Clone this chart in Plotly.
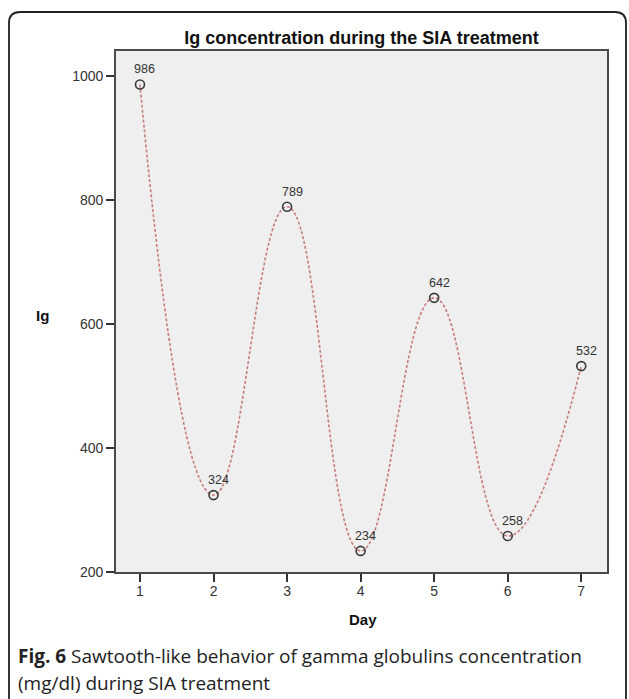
import plotly.graph_objects as go

days = [1, 2, 3, 4, 5, 6, 7]
ig_values = [986, 324, 789, 234, 642, 258, 532]
y_ticks = [200, 400, 600, 800, 1000]

title_text = "Ig concentration during the SIA treatment"
y_label = "Ig"
x_label = "Day"
caption_1 = "<b>Fig. 6</b> Sawtooth-like behavior of gamma globulins concentration"
caption_2 = "(mg/dl) during SIA treatment"

W, H = 629, 699
L, R, T, B = 116, 22, 51, 127
PW, PH = W - L - R, H - T - B


def px(xp):
    return (xp - L) / PW


def py(yp):
    return (H - B - yp) / PH


fig = go.Figure()
fig.add_trace(go.Scatter(
    x=days, y=ig_values, mode="lines",
    line=dict(shape="spline", smoothing=1.3, dash="3px,2px", width=1.6, color="#c97b7b"),
    hoverinfo="skip", showlegend=False,
))
fig.add_trace(go.Scatter(
    x=days, y=ig_values, mode="markers",
    marker=dict(symbol="circle-open", size=9, color="#3a3a3a", line=dict(width=1.6, color="#3a3a3a")),
    showlegend=False,
))

annotations = []
for d, v in zip(days, ig_values):
    annotations.append(dict(
        x=d, y=v, xref="x", yref="y", text=str(v), showarrow=False,
        xshift=5, yshift=15, font=dict(family="Liberation Sans, Arial", size=12.5, color="#333"),
    ))

annotations.append(dict(
    x=px(42), y=py(315), xref="paper", yref="paper", text="<b>" + y_label + "</b>",
    showarrow=False, xanchor="center", yanchor="middle",
    font=dict(family="Liberation Sans, Arial", size=15, color="#111"),
))
annotations.append(dict(
    x=px(363), y=py(619), xref="paper", yref="paper", text="<b>" + x_label + "</b>",
    showarrow=False, xanchor="center", yanchor="middle",
    font=dict(family="Liberation Sans, Arial", size=15, color="#111"),
))
annotations.append(dict(
    x=px(16), y=py(656), xref="paper", yref="paper", text=caption_1,
    showarrow=False, xanchor="left", yanchor="middle",
    font=dict(family="Open Sans", size=19, color="#222"),
))
annotations.append(dict(
    x=px(16), y=py(683), xref="paper", yref="paper", text=caption_2,
    showarrow=False, xanchor="left", yanchor="middle",
    font=dict(family="Open Sans", size=19, color="#222"),
))

# rounded outer frame
fl, ft, fr, fb, rad = 9, 12, 626, 720, 11
path = (
    f"M {px(fl)} {py(fb)} L {px(fl)} {py(ft + rad)} "
    f"Q {px(fl)} {py(ft)} {px(fl + rad)} {py(ft)} "
    f"L {px(fr - rad)} {py(ft)} "
    f"Q {px(fr)} {py(ft)} {px(fr)} {py(ft + rad)} "
    f"L {px(fr)} {py(fb)}"
)
shapes = [dict(type="path", path=path, xref="paper", yref="paper",
               line=dict(color="#222", width=1.8), layer="above")]

fig.update_layout(
    width=W, height=H,
    margin=dict(l=L, r=R, t=T, b=B),
    paper_bgcolor="white", plot_bgcolor="#efefef",
    title=dict(text="<b>" + title_text + "</b>", x=0.5, xref="paper",
               y=1 - 38 / H, yref="container", xanchor="center", yanchor="middle",
               font=dict(family="Liberation Sans, Arial", size=18, color="#111")),
    xaxis=dict(range=[0.674, 7.35], tickvals=days, ticktext=[str(d) for d in days],
               ticks="outside", ticklen=8, tickwidth=1.5, tickcolor="#333",
               ticklabelstandoff=-3,
               showline=True, mirror=True, linecolor="#4a4a4a", linewidth=1.8,
               showgrid=False, zeroline=False,
               tickfont=dict(family="Liberation Sans, Arial", size=14, color="#333")),
    yaxis=dict(range=[200, 1040], tickvals=y_ticks, ticktext=[str(v) for v in y_ticks],
               ticks="outside", ticklen=8, tickwidth=1.5, tickcolor="#333",
               showline=True, mirror=True, linecolor="#4a4a4a", linewidth=1.8,
               showgrid=False, zeroline=False,
               tickfont=dict(family="Liberation Sans, Arial", size=14, color="#333")),
    annotations=annotations,
    shapes=shapes,
)

fig.write_html("out.html", config={"displayModeBar": False},
               post_script="document.body.style.margin='0';document.body.style.overflow='hidden';")
